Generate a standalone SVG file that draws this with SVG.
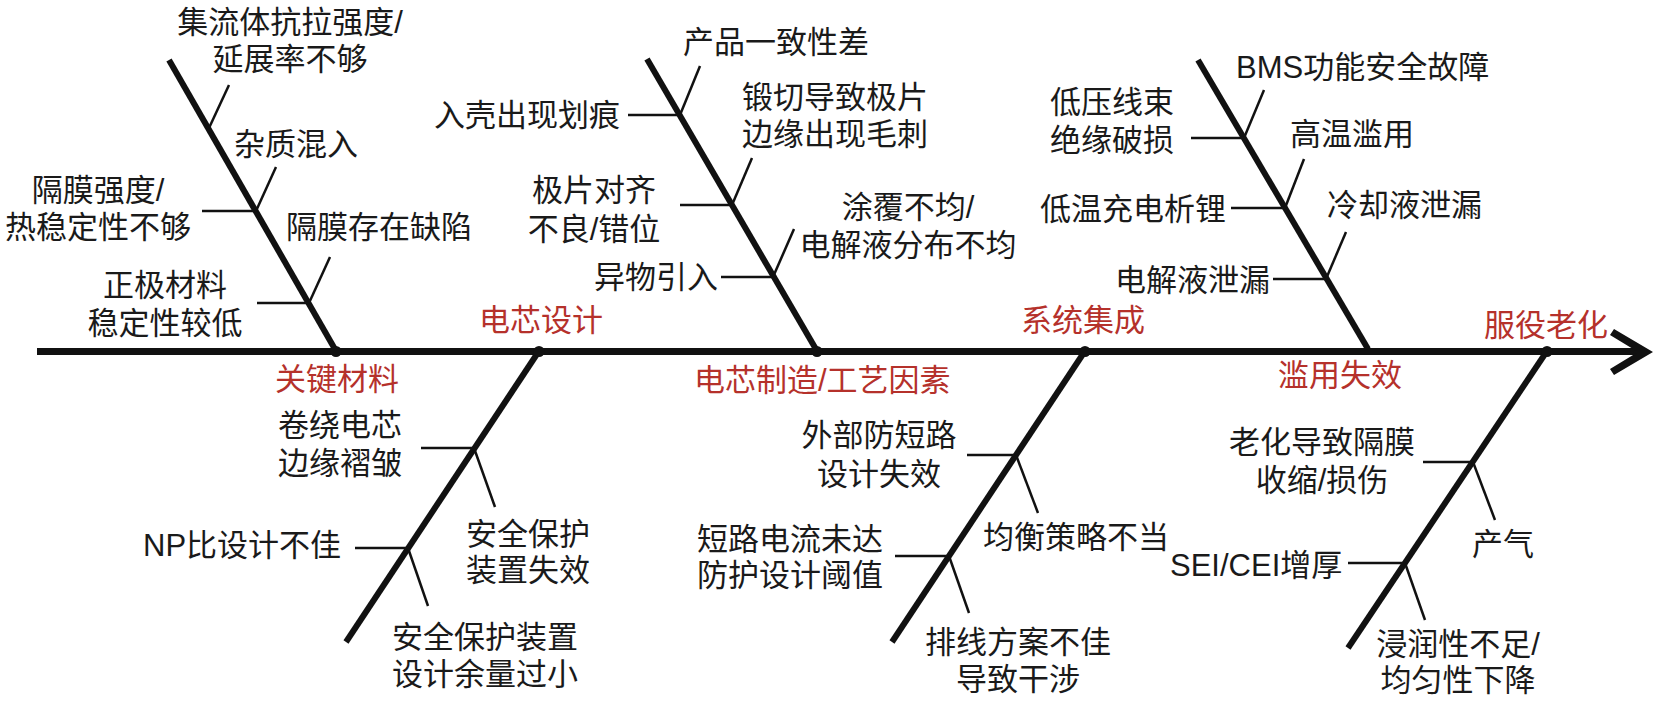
<svg xmlns="http://www.w3.org/2000/svg" width="1654" height="701" viewBox="0 0 1654 701">
<style>
text { font-family: 'Liberation Sans','Noto Sans CJK SC',sans-serif; font-size: 31px; fill: #1a1a1a; }
.cat { fill: #b5312b; }
.m { text-anchor: middle; }
.spine { stroke: #111; stroke-width: 7; fill: none; }
.bone { stroke: #111; stroke-width: 6; }
.sub { stroke: #111; stroke-width: 2.5; }
.dot { fill: #111; }
</style>
<rect width="1654" height="701" fill="#fff"/>
<g id="connectors">
  <line class="spine" x1="37" y1="351.5" x2="1640" y2="351.5"/>
  <polygon fill="#111" points="1653,352 1614,329 1610,335 1638,352 1610,369 1614,375"/>
  <line class="bone" x1="169" y1="60" x2="336" y2="351"/>
  <line class="bone" x1="539" y1="351" x2="346" y2="642"/>
  <line class="bone" x1="647" y1="59" x2="817" y2="351"/>
  <line class="bone" x1="1085" y1="351" x2="892" y2="642"/>
  <line class="bone" x1="1198" y1="60" x2="1368" y2="349"/>
  <line class="bone" x1="1547" y1="351" x2="1348" y2="648"/>
  <circle class="dot" cx="336" cy="351.5" r="5.5"/>
  <circle class="dot" cx="539" cy="351.5" r="5.5"/>
  <circle class="dot" cx="817" cy="351.5" r="5.5"/>
  <circle class="dot" cx="1085" cy="351.5" r="5.5"/>
  <circle class="dot" cx="1547" cy="351.5" r="5.5"/>
  <g class="sub">
    <line x1="209" y1="128" x2="229" y2="85"/>
    <line x1="256" y1="211" x2="276" y2="167"/>
    <line x1="202" y1="211" x2="256" y2="211"/>
    <line x1="309" y1="303" x2="330" y2="257"/>
    <line x1="257" y1="303" x2="309" y2="303"/>
    <line x1="680" y1="115" x2="700" y2="66"/>
    <line x1="628" y1="115" x2="680" y2="115"/>
    <line x1="732" y1="205" x2="752" y2="158"/>
    <line x1="680" y1="205" x2="732" y2="205"/>
    <line x1="773" y1="277" x2="794" y2="229"/>
    <line x1="721" y1="277" x2="773" y2="277"/>
    <line x1="1244" y1="138" x2="1264" y2="90"/>
    <line x1="1191" y1="138" x2="1244" y2="138"/>
    <line x1="1285" y1="208" x2="1304" y2="159"/>
    <line x1="1231" y1="208" x2="1285" y2="208"/>
    <line x1="1326" y1="279" x2="1346" y2="232"/>
    <line x1="1273" y1="279" x2="1326" y2="279"/>
    <line x1="421" y1="448" x2="474" y2="448"/>
    <line x1="474" y1="448" x2="495" y2="507"/>
    <line x1="355" y1="548" x2="408" y2="548"/>
    <line x1="408" y1="548" x2="428" y2="606"/>
    <line x1="967" y1="455" x2="1016" y2="455"/>
    <line x1="1016" y1="455" x2="1038" y2="513"/>
    <line x1="895" y1="556" x2="949" y2="556"/>
    <line x1="949" y1="556" x2="969" y2="613"/>
    <line x1="1423" y1="462" x2="1473" y2="462"/>
    <line x1="1473" y1="462" x2="1495" y2="520"/>
    <line x1="1348" y1="563" x2="1405" y2="563"/>
    <line x1="1405" y1="563" x2="1425" y2="620"/>
  </g>
</g>
<g id="cat-materials">
  <text class="cat" x="275" y="390">关键材料</text>
  <g id="c1-1"><text class="m" x="290" y="33">集流体抗拉强度/</text><text class="m" x="290" y="70">延展率不够</text></g>
  <g id="c1-2"><text x="234" y="155">杂质混入</text></g>
  <g id="c1-3"><text class="m" x="98" y="201">隔膜强度/</text><text class="m" x="98" y="238">热稳定性不够</text></g>
  <g id="c1-4"><text x="286" y="238">隔膜存在缺陷</text></g>
  <g id="c1-5"><text class="m" x="165" y="296">正极材料</text><text class="m" x="165" y="334">稳定性较低</text></g>
</g>
<g id="cat-design">
  <text class="cat" x="479" y="331">电芯设计</text>
  <g id="c2-1"><text class="m" x="340" y="436">卷绕电芯</text><text class="m" x="340" y="474">边缘褶皱</text></g>
  <g id="c2-2"><text class="m" x="528" y="545">安全保护</text><text class="m" x="528" y="581">装置失效</text></g>
  <g id="c2-3"><text x="143" y="556">NP比设计不佳</text></g>
  <g id="c2-4"><text class="m" x="485" y="648">安全保护装置</text><text class="m" x="485" y="685">设计余量过小</text></g>
</g>
<g id="cat-manufacturing">
  <text class="cat" x="694" y="391">电芯制造/工艺因素</text>
  <g id="c3-1"><text x="683" y="53">产品一致性差</text></g>
  <g id="c3-2"><text x="434" y="126">入壳出现划痕</text></g>
  <g id="c3-3"><text x="742" y="108">锻切导致极片</text><text x="742" y="145">边缘出现毛刺</text></g>
  <g id="c3-4"><text class="m" x="594" y="201">极片对齐</text><text class="m" x="594" y="240">不良/错位</text></g>
  <g id="c3-5"><text class="m" x="908" y="218">涂覆不均/</text><text class="m" x="908" y="256">电解液分布不均</text></g>
  <g id="c3-6"><text x="594" y="288">异物引入</text></g>
</g>
<g id="cat-system">
  <text class="cat" x="1021" y="331">系统集成</text>
  <g id="c4-1"><text class="m" x="879" y="446">外部防短路</text><text class="m" x="879" y="485">设计失效</text></g>
  <g id="c4-2"><text x="983" y="548">均衡策略不当</text></g>
  <g id="c4-3"><text class="m" x="790" y="550">短路电流未达</text><text class="m" x="790" y="586">防护设计阈值</text></g>
  <g id="c4-4"><text class="m" x="1018" y="653">排线方案不佳</text><text class="m" x="1018" y="690">导致干涉</text></g>
</g>
<g id="cat-abuse">
  <text class="cat" x="1278" y="386">滥用失效</text>
  <g id="c5-1"><text x="1236" y="78">BMS功能安全故障</text></g>
  <g id="c5-2"><text class="m" x="1112" y="113">低压线束</text><text class="m" x="1112" y="151">绝缘破损</text></g>
  <g id="c5-3"><text x="1290" y="145">高温滥用</text></g>
  <g id="c5-4"><text x="1040" y="220">低温充电析锂</text></g>
  <g id="c5-5"><text x="1327" y="216">冷却液泄漏</text></g>
  <g id="c5-6"><text x="1115" y="291">电解液泄漏</text></g>
</g>
<g id="cat-aging">
  <text class="cat" x="1484" y="336">服役老化</text>
  <g id="c6-1"><text class="m" x="1322" y="453">老化导致隔膜</text><text class="m" x="1322" y="491">收缩/损伤</text></g>
  <g id="c6-2"><text x="1472" y="555">产气</text></g>
  <g id="c6-3"><text x="1170" y="576">SEI/CEI增厚</text></g>
  <g id="c6-4"><text class="m" x="1458" y="655">浸润性不足/</text><text class="m" x="1458" y="691">均匀性下降</text></g>
</g>
</svg>
